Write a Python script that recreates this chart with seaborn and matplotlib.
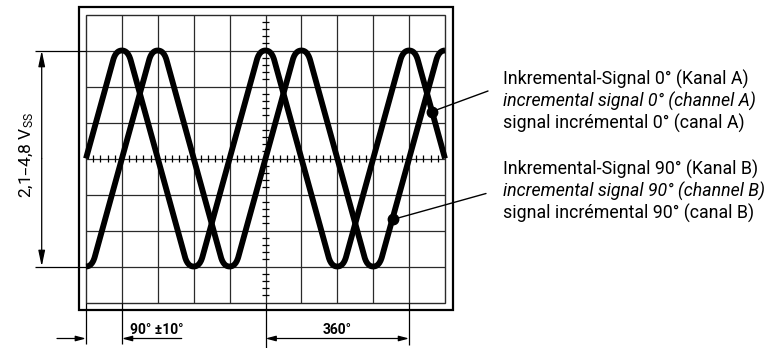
import matplotlib
matplotlib.use("Agg")
import matplotlib.pyplot as plt
from matplotlib.patches import FancyArrowPatch, Rectangle
import numpy as np
import pandas as pd
import seaborn as sns

# ---------------- data (screen divisions: 10 x 8 grid, 1 div = 90 deg) ----------------
grid_cols = list(range(0, 11))
grid_rows = list(range(-4, 5))

sig_a_x = [0, 0.83, 1.17, 2.83, 3.17, 4.83, 5.17, 6.83, 7.17, 8.83, 9.17, 10]
sig_a_y = [0, 3, 3, -3, -3, 3, 3, -3, -3, 3, 3, 0]
sig_b_x = [0, 0.17, 1.83, 2.17, 3.83, 4.17, 5.83, 6.17, 7.83, 8.17, 9.83, 10]
sig_b_y = [-3, -3, 3, 3, -3, -3, 3, 3, -3, -3, 3, 3]

dot_a = (9.63, 1.30)
dot_b = (8.56, -1.69)

amp_label = "2,1–4,8 V$_{SS}$"
phase_label = "90° ±10°"
period_label = "360°"
labels_a = ["Inkremental-Signal 0° (Kanal A)",
            "incremental signal 0° (channel A)",
            "signal incrémental 0° (canal A)"]
labels_b = ["Inkremental-Signal 90° (Kanal B)",
            "incremental signal 90° (channel B)",
            "signal incrémental 90° (canal B)"]
label_styles = ["normal", "italic", "normal"]

# ---------------- layout helpers (pixel -> division coordinates) ----------------
def X(px):
    return (px - 86.0) / 35.9

def Y(py):
    return (158.5 - py) / 36.0


def rounded(xs, ys, r=0.28, n=14):
    pts = np.column_stack([xs, ys]).astype(float)
    out = [pts[0]]
    last = len(pts) - 1
    for i in range(1, last):
        p, v, q = pts[i - 1], pts[i], pts[i + 1]
        d1 = p - v
        l1 = np.hypot(*d1)
        d2 = q - v
        l2 = np.hypot(*d2)
        c1 = l1 if i - 1 == 0 else l1 / 2
        c2 = l2 if i + 1 == last else l2 / 2
        a = v + d1 / l1 * min(r, c1)
        b = v + d2 / l2 * min(r, c2)
        t = np.linspace(0, 1, n)[:, None]
        out.extend((1 - t) ** 2 * a + 2 * (1 - t) * t * v + t ** 2 * b)
    out.append(pts[-1])
    return np.array(out)


sns.set_style("white")
plt.rcParams["font.family"] = ["Roboto", "DejaVu Sans"]
plt.rcParams["mathtext.default"] = "regular"
plt.rcParams["text.color"] = "black"

fig = plt.figure(figsize=(7.79, 3.48), dpi=100)
ax = fig.add_axes([0, 0, 1, 1])

INK = "black"
GRID = "#2a2a2a"

# outer frame and inner screen border
ax.add_patch(Rectangle((X(79), Y(310)), X(453) - X(79), Y(7) - Y(310),
                       fill=False, lw=1.6, ec=INK, zorder=2))
ax.add_patch(Rectangle((0, -4), 10, 8, fill=False, lw=1.0, ec=GRID, zorder=2))

# grid
ax.vlines(grid_cols[1:-1], -4, 4, lw=0.9, color=GRID, zorder=1)
ax.hlines(grid_rows[1:-1], 0, 10, lw=0.9, color=GRID, zorder=1)

# extension lines for dimensions
ax.vlines([0, 1], Y(344), -4, lw=0.9, color=INK)
ax.vlines([5], Y(348), -4, lw=0.9, color=INK)
ax.vlines([9], Y(345), -4, lw=0.9, color=INK)
ax.hlines([3, -3], X(35), 0, lw=0.9, color=INK)

# minor ticks on centre axes
tx = [v for v in np.round(np.arange(0.2, 10, 0.2), 2) if abs(v - round(v)) > 1e-6]
ty = [v for v in np.round(np.arange(-3.8, 4, 0.2), 2) if abs(v - round(v)) > 1e-6]
ax.vlines(tx, -0.085, 0.085, lw=0.9, color=INK)
ax.hlines(ty, 5 - 0.1, 5 + 0.1, lw=0.9, color=INK)

# signals
for xs, ys in [(sig_a_x, sig_a_y), (sig_b_x, sig_b_y)]:
    pts = rounded(xs, ys)
    df = pd.DataFrame({"x": pts[:, 0], "y": pts[:, 1]})
    sns.lineplot(data=df, x="x", y="y", sort=False, estimator=None, ax=ax,
                 color=INK, lw=4.2, solid_capstyle="butt",
                 solid_joinstyle="round", zorder=4)

# leader dots and lines
ax.plot([dot_a[0], X(488)], [dot_a[1], Y(91)], lw=1.0, color=INK, zorder=5)
ax.plot([dot_b[0], X(486)], [dot_b[1], Y(193.5)], lw=1.0, color=INK, zorder=5)
ax.plot([dot_a[0], dot_b[0]], [dot_a[1], dot_b[1]], "o", ms=7.5, color=INK,
        ls="none", zorder=6)

# amplitude dimension
for yy in (3, -3):
    ax.add_patch(FancyArrowPatch((X(41.7), 0), (X(41.7), yy),
                                 arrowstyle="-|>,head_length=0.95,head_width=0.2",
                                 mutation_scale=10, shrinkA=0, shrinkB=0,
                                 lw=0.9, color=INK))
ax.text(X(26.5), Y(155), amp_label, rotation=90, ha="center", va="center",
        fontsize=12.5, color=INK)

# phase dimensions
yd = Y(338.5)
ax.add_patch(FancyArrowPatch((X(57), yd), (0, yd),
                             arrowstyle="-|>,head_length=0.6,head_width=0.16",
                             mutation_scale=10, shrinkA=0, shrinkB=0, lw=0.9, color=INK))
ax.add_patch(FancyArrowPatch((X(181.7), yd), (1, yd),
                             arrowstyle="-|>,head_length=0.6,head_width=0.16",
                             mutation_scale=10, shrinkA=0, shrinkB=0, lw=0.9, color=INK))
ax.add_patch(FancyArrowPatch((5, yd), (9, yd),
                             arrowstyle="<|-|>,head_length=0.6,head_width=0.16",
                             mutation_scale=10, shrinkA=0, shrinkB=0, lw=0.9, color=INK))
ax.text(X(156.7), Y(330), phase_label, ha="center", va="center",
        fontsize=10, weight="bold", color=INK)
ax.text(X(337.5), Y(330), period_label, ha="center", va="center",
        fontsize=10, weight="bold", color=INK)

# legend texts
for lines, bases in [(labels_a, [85, 107, 129]), (labels_b, [175, 197, 219])]:
    for txt, style, b in zip(lines, label_styles, bases):
        ax.text(X(503), Y(b), txt, ha="left", va="baseline", fontsize=12.8,
                style=style, color=INK)

ax.set_xlim(X(0), X(779))
ax.set_ylim(Y(348), Y(0))
ax.axis("off")
fig.savefig("out.png", dpi=100)
